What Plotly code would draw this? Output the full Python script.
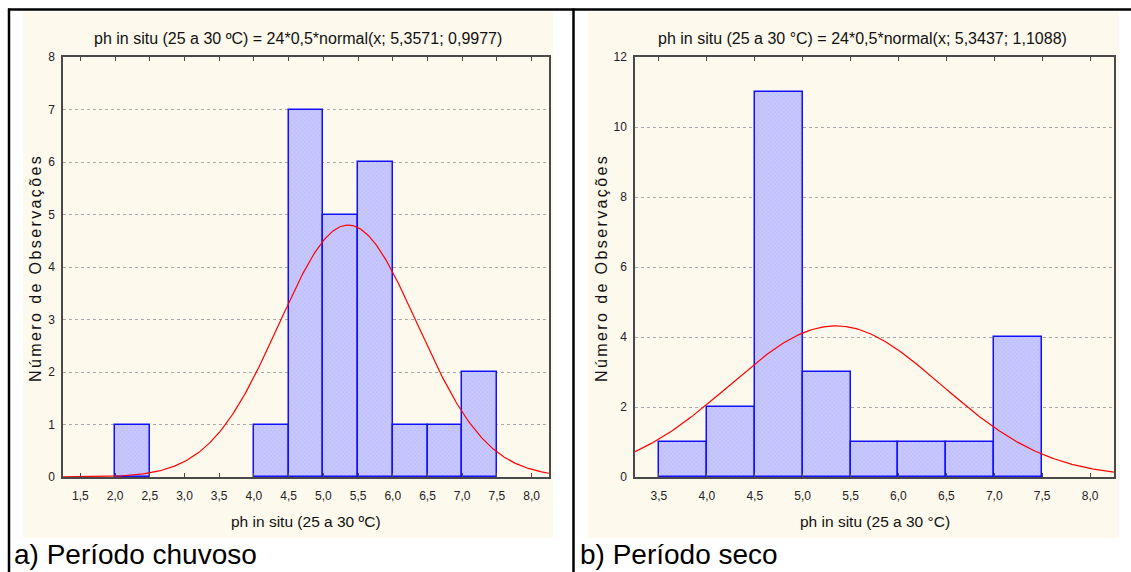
import numpy as np
import plotly.graph_objects as go

W, H = 1131, 572

# ---- data ----
bin_width = 0.5
left_bin_starts = [2.0, 4.0, 4.5, 5.0, 5.5, 6.0, 6.5, 7.0]
left_counts = [1, 1, 7, 5, 6, 1, 1, 2]
right_bin_starts = [3.5, 4.0, 4.5, 5.0, 5.5, 6.0, 6.5, 7.0]
right_counts = [1, 2, 11, 3, 1, 1, 1, 4]

# fitted normal curve parameters (from chart titles): N * binwidth * normal(x; mean; sd)
left_fit = dict(n=24, mean=5.3571, sd=0.9977)
right_fit = dict(n=24, mean=5.3437, sd=1.1088)

left_xticks = [1.5, 2.0, 2.5, 3.0, 3.5, 4.0, 4.5, 5.0, 5.5, 6.0, 6.5, 7.0, 7.5, 8.0]
left_xticklabels = ["1,5", "2,0", "2,5", "3,0", "3,5", "4,0", "4,5", "5,0", "5,5", "6,0", "6,5", "7,0", "7,5", "8,0"]
right_xticks = [3.5, 4.0, 4.5, 5.0, 5.5, 6.0, 6.5, 7.0, 7.5, 8.0]
right_xticklabels = ["3,5", "4,0", "4,5", "5,0", "5,5", "6,0", "6,5", "7,0", "7,5", "8,0"]
left_yticks = [0, 1, 2, 3, 4, 5, 6, 7, 8]
right_yticks = [0, 2, 4, 6, 8, 10, 12]

left_title = "ph in situ (25 a 30 ºC) = 24*0,5*normal(x; 5,3571; 0,9977)"
right_title = "ph in situ (25 a 30 °C) = 24*0,5*normal(x; 5,3437; 1,1088)"
left_xlabel = "ph in situ (25 a 30 ºC)"
right_xlabel = "ph in situ (25 a 30 °C)"
ylabel = "Número de Observações"
left_caption = "a) Período chuvoso"
right_caption = "b) Período seco"

left_xrange = [1.25, 8.25]
right_xrange = [3.25, 8.25]


def px_x(p):
    return p / W


def px_y(p):
    return 1 - p / H


def normal_curve(fit, xr):
    xs = np.linspace(xr[0], xr[1], 400)
    ys = fit["n"] * bin_width * np.exp(-0.5 * ((xs - fit["mean"]) / fit["sd"]) ** 2) / (fit["sd"] * np.sqrt(2 * np.pi))
    return xs, ys


NARROW = "Liberation Sans Narrow, Arial Narrow, Liberation Sans, Arial"
SANS = "Liberation Sans, Arial"

fig = go.Figure()

panels = [
    dict(xa="x", ya="y", starts=left_bin_starts, counts=left_counts, fit=left_fit, xr=left_xrange),
    dict(xa="x2", ya="y2", starts=right_bin_starts, counts=right_counts, fit=right_fit, xr=right_xrange),
]
for p in panels:
    centers = [s + bin_width / 2 for s in p["starts"]]
    fig.add_trace(go.Bar(
        x=centers, y=p["counts"], width=[bin_width] * len(centers),
        xaxis=p["xa"], yaxis=p["ya"],
        marker=dict(color="#c6c6ff", line=dict(color="#1010ff", width=1.5),
                    pattern=dict(shape="x", fgcolor="#9d9df2", bgcolor="#c8c8ff", size=3, solidity=0.25)),
        showlegend=False,
    ))
    xs, ys = normal_curve(p["fit"], p["xr"])
    fig.add_trace(go.Scatter(x=xs, y=ys, mode="lines", line=dict(color="#ff0000", width=1.2),
                             xaxis=p["xa"], yaxis=p["ya"], showlegend=False, hoverinfo="skip"))

common_x = dict(showgrid=False, zeroline=False, showline=True, linecolor="#4a4a4a", linewidth=1.5,
                mirror="ticks", ticks="inside", ticklen=4, tickcolor="#4a4a4a",
                tickfont=dict(family=NARROW, size=12, color="#222"), ticklabelstandoff=7)
common_y = dict(showgrid=True, gridcolor="#a8a8a8", griddash="dot", gridwidth=1, zeroline=False,
                showline=True, linecolor="#4a4a4a", linewidth=1.5, mirror=True, ticks="",
                tickfont=dict(family=NARROW, size=12, color="#222"), ticklabelstandoff=4)

fig.update_layout(
    width=W, height=H, margin=dict(l=0, r=0, t=0, b=0, pad=0, autoexpand=False),
    paper_bgcolor="white", plot_bgcolor="white", bargap=0,
    xaxis=dict(domain=[px_x(63), px_x(549)], range=left_xrange, anchor="y",
               tickvals=left_xticks, ticktext=left_xticklabels, **common_x),
    yaxis=dict(domain=[px_y(477), px_y(57)], range=[0, 8], anchor="x",
               tickvals=left_yticks, **common_y),
    xaxis2=dict(domain=[px_x(635), px_x(1114)], range=right_xrange, anchor="y2",
                tickvals=right_xticks, ticktext=right_xticklabels, **common_x),
    yaxis2=dict(domain=[px_y(477), px_y(57)], range=[0, 12], anchor="x2",
                tickvals=right_yticks, **common_y),
)

shapes = []
# cream panel backgrounds
for x0, x1 in [(23, 553), (588, 1119)]:
    shapes.append(dict(type="rect", xref="paper", yref="paper", x0=px_x(x0), x1=px_x(x1),
                       y0=px_y(538), y1=px_y(12), fillcolor="#fef9ed", line=dict(width=0), layer="below"))
# black frame lines
shapes.append(dict(type="line", xref="paper", yref="paper", x0=px_x(8), x1=1, y0=px_y(9.5), y1=px_y(9.5),
                   line=dict(color="black", width=2.5)))
shapes.append(dict(type="line", xref="paper", yref="paper", x0=px_x(9), x1=px_x(9), y0=0, y1=px_y(8.5),
                   line=dict(color="black", width=2.5)))
shapes.append(dict(type="line", xref="paper", yref="paper", x0=px_x(573.5), x1=px_x(573.5), y0=0, y1=px_y(8.5),
                   line=dict(color="black", width=2.5)))
fig.update_layout(shapes=shapes)

ann = []
for cx, t in [(298, left_title), (862, right_title)]:
    ann.append(dict(text=t, x=px_x(cx), y=px_y(38), xref="paper", yref="paper", showarrow=False,
                    xanchor="center", yanchor="middle", font=dict(family=NARROW, size=16, color="#111")))
for cx, t in [(306, left_xlabel), (875, right_xlabel)]:
    ann.append(dict(text=t, x=px_x(cx), y=px_y(521), xref="paper", yref="paper", showarrow=False,
                    xanchor="center", yanchor="middle", font=dict(family=NARROW, size=15.5, color="#111")))
for cx in [35, 601]:
    ann.append(dict(text='<span style="letter-spacing:2.4px">' + ylabel + '</span>', x=px_x(cx), y=px_y(268),
                    xref="paper", yref="paper", showarrow=False, textangle=-90,
                    xanchor="center", yanchor="middle", font=dict(family=SANS, size=16, color="#111")))
for lx, t in [(12, left_caption), (578, right_caption)]:
    ann.append(dict(text=t, x=px_x(lx), y=px_y(554), xref="paper", yref="paper", showarrow=False,
                    xanchor="left", yanchor="middle", font=dict(family=SANS, size=28, color="#000")))
fig.update_layout(annotations=ann)

fig.write_html("out.html")
